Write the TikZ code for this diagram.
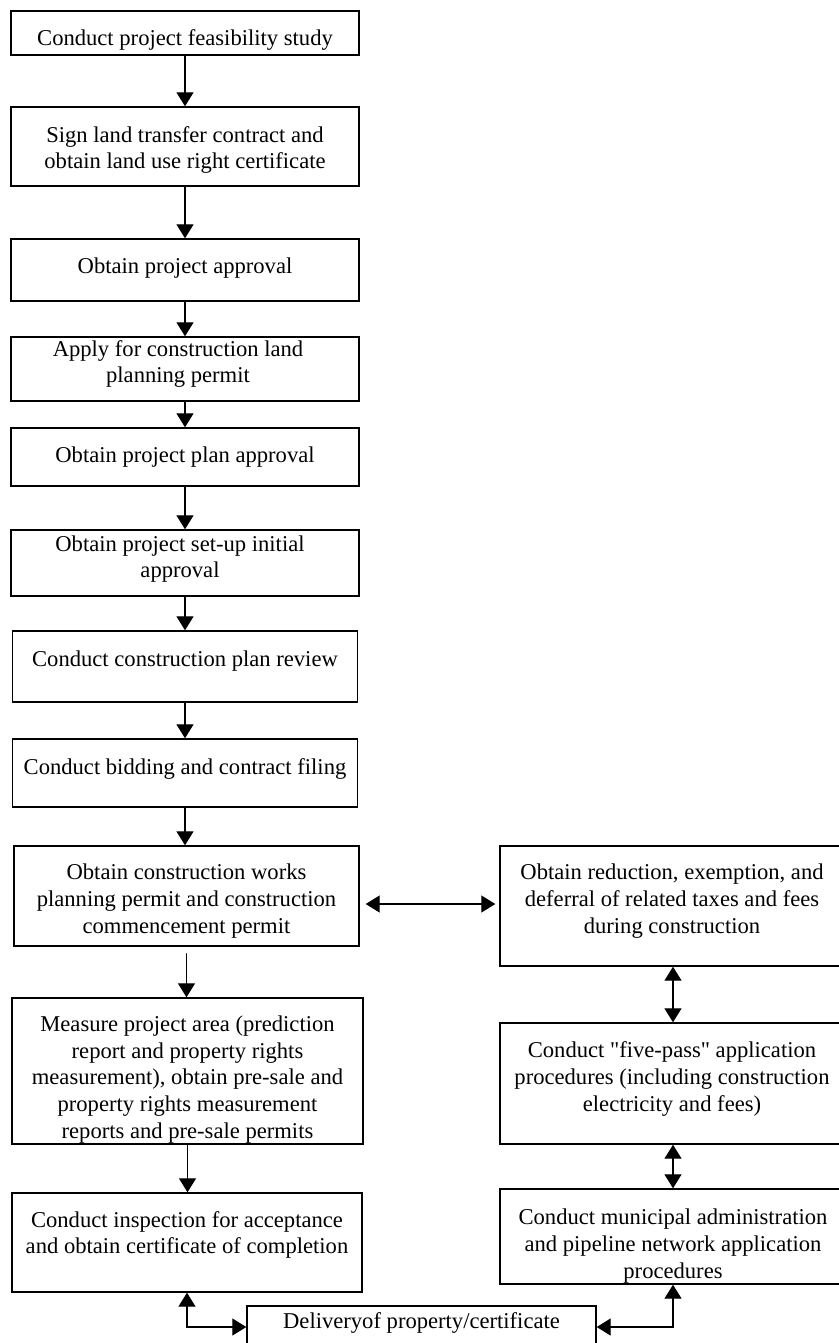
\documentclass[tikz,border=0pt]{standalone}
\usepackage{fontspec}
\setmainfont{Liberation Serif}
\usetikzlibrary{arrows.meta}

\tikzset{
  stepbox/.style={draw, line width=0.7pt, minimum width=174pt, inner sep=0pt},
  lbl/.style={align=center, inner sep=0pt, font=\fontsize{11.3}{13.3}\selectfont},
  flow/.style={line width=0.6pt, -{Triangle[length=7pt,width=8.5pt]}},
  both/.style={line width=0.6pt, {Triangle[length=7pt,width=8.5pt]}-{Triangle[length=7pt,width=8.5pt]}},
}

\begin{document}
\begin{tikzpicture}[x=0.5pt,y=-0.5pt,line cap=round]
  \useasboundingbox (0,0) rectangle (839,1343);
  % Left column of steps
  \node[stepbox,minimum height=22pt] (b1) at (185,33) {};
  \node[stepbox,minimum height=39.5pt] (b2) at (185,146.5) {};
  \node[stepbox,minimum height=31pt] (b3) at (185,270) {};
  \node[stepbox,minimum height=32pt] (b4) at (185,369) {};
  \node[stepbox,minimum height=29pt] (b5) at (185,457) {};
  \node[stepbox,minimum height=33pt] (b6) at (185,563) {};
  \node[stepbox,minimum height=35.5pt,minimum width=172.5pt] (b7) at (185,666.5) {};
  \node[stepbox,minimum height=34pt,minimum width=172.5pt] (b8) at (185,773) {};
  \node[stepbox,minimum height=50pt,minimum width=172.5pt] (b9) at (186.5,896) {};
  \node[stepbox,minimum height=73pt,minimum width=175.5pt] (b10) at (187.5,1071) {};
  \node[stepbox,minimum height=49.5pt,minimum width=175pt] (b11) at (187,1242.5) {};
  % Right column and delivery box
  \node[stepbox,minimum height=60pt,minimum width=173pt] (r1) at (673,906) {};
  \node[stepbox,minimum height=60.5pt,minimum width=173pt] (r2) at (673,1083.5) {};
  \node[stepbox,minimum height=47.5pt,minimum width=173pt] (r3) at (673,1236.5) {};
  \node[stepbox,minimum height=21pt,minimum width=174.5pt] (dl) at (421.5,1327) {};

  \node[lbl] (t1) at (185,40) {Conduct project feasibility study};
  \node[lbl] (t2) at (185,150) {Sign land transfer contract and\\obtain land use right certificate};
  \node[lbl] (t3) at (185,268) {Obtain project approval};
  \node[lbl] (t4) at (178,364) {Apply for construction land\\planning permit};
  \node[lbl] (t5) at (185,457) {Obtain project plan approval};
  \node[lbl] (t6) at (180,559) {Obtain project set-up initial\\approval};
  \node[lbl] (t7) at (185,661) {Conduct construction plan review};
  \node[lbl] (t8) at (185,769) {Conduct bidding and contract filing};
  \node[lbl] (t9) at (186.5,901) {Obtain construction works\\planning permit and construction\\commencement permit};
  \node[lbl] (t10) at (187.5,1079.5) {Measure project area (prediction\\report and property rights\\measurement), obtain pre-sale and\\property rights measurement\\reports and pre-sale permits};
  \node[lbl] (t11) at (187,1235) {Conduct inspection for acceptance\\and obtain certificate of completion};
  \node[lbl] (t12) at (672,901) {Obtain reduction, exemption, and\\deferral of related taxes and fees\\during construction};
  \node[lbl] (t13) at (672,1079) {Conduct \textquotedbl five-pass\textquotedbl{} application\\procedures (including construction\\electricity and fees)};
  \node[lbl] (t14) at (673,1246) {Conduct municipal administration\\and pipeline network application\\procedures};
  \node[lbl] (t15) at (421.5,1323) {Deliveryof property/certificate};

  % Main sequence
  \draw[flow] (b1) -- (b2);
  \draw[flow] (b2) -- (b3);
  \draw[flow] (b3) -- (b4);
  \draw[flow] (b4) -- (b5);
  \draw[flow] (b5) -- (b6);
  \draw[flow] (b6) -- (b7);
  \draw[flow] (b7) -- (b8);
  \draw[flow] (b8.south) -- (b8.south |- b9.north);
  \draw[flow] ([yshift=-3.5pt]b9.south) -- (b9.south |- b10.north);
  \draw[flow] (b10.south) -- (b10.south |- b11.north);
  % Side procedures
  \draw[both] ([xshift=3pt,yshift=-4pt]b9.east) -- ([xshift=-2pt,yshift=-4pt]b9.east -| r1.west);
  \draw[both] (r1.south) -- (r2.north);
  \draw[both] (r2.south) -- (r3.north);
  \draw[both] (b11.south) |- (dl.west);
  \draw[both] (dl.east) -| (r3.south);
\end{tikzpicture}
\end{document}
